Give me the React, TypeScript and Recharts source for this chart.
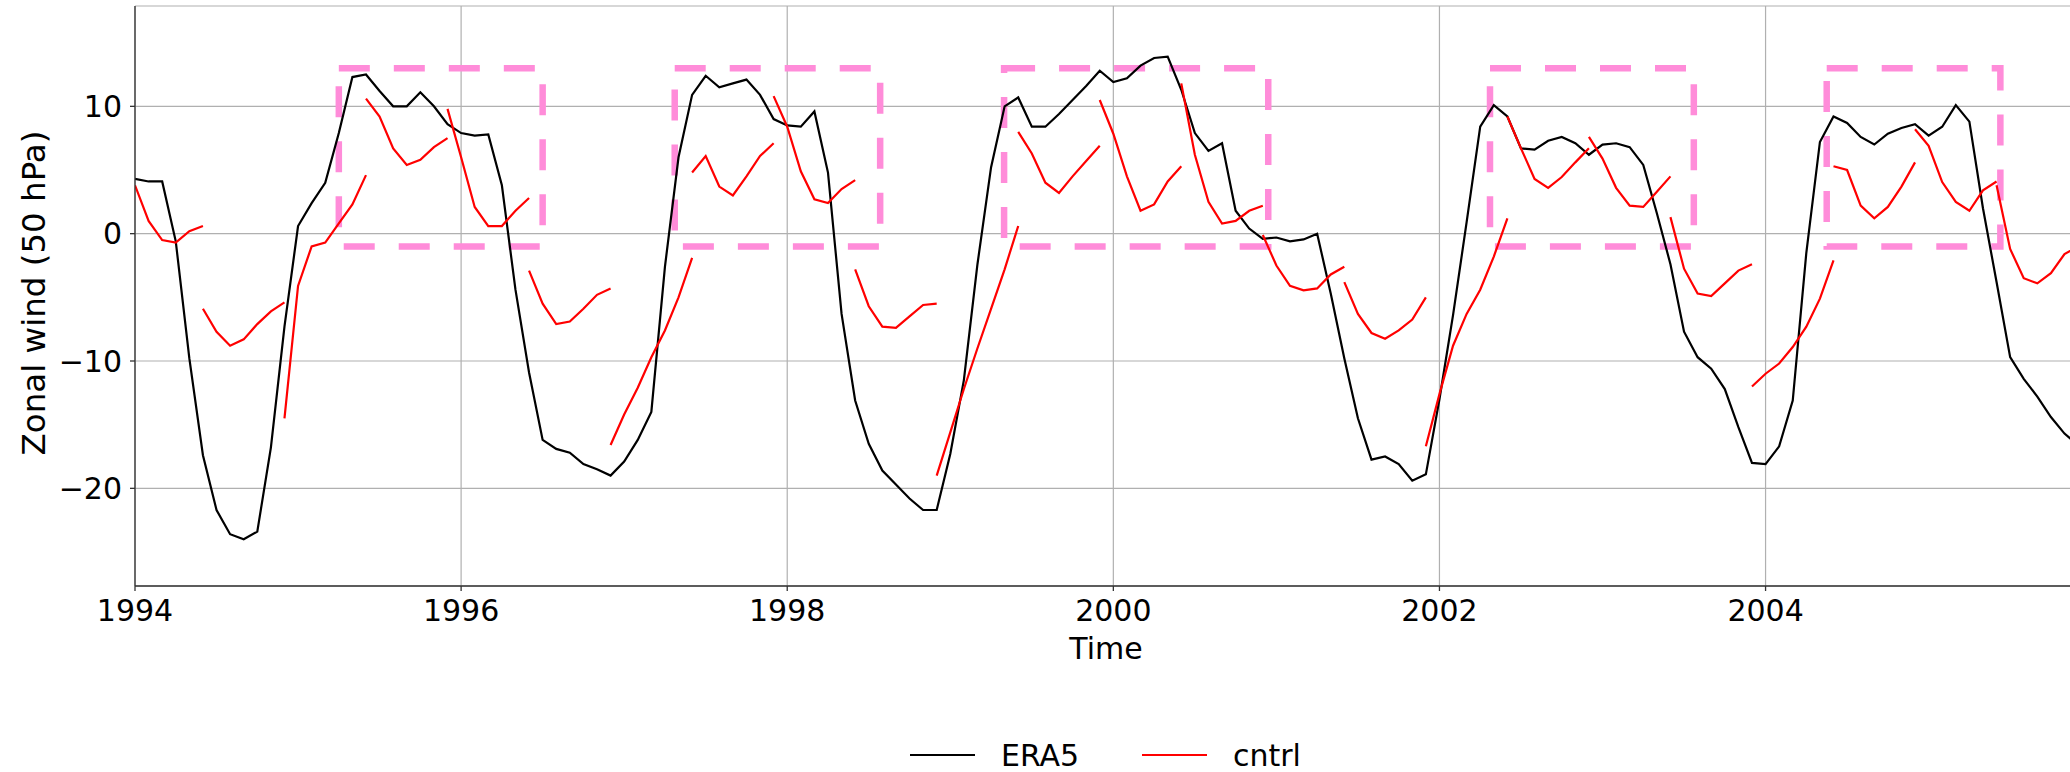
import React from 'react';
import { LineChart, Line, XAxis, YAxis, CartesianGrid, ReferenceArea, Label } from 'recharts';

// Monthly zonal wind at 50 hPa, Jan 1994 onwards (one value per month)
const startYear = 1994;
const era5 = [
  4.3, 4.1, 4.1, -0.6, -9.8, -17.4, -21.7, -23.6, -24.0, -23.4, -16.8, -7.3,
  0.6, 2.4, 4.0, 7.9, 12.3, 12.5, 11.2, 10.0, 10.0, 11.1, 10.0, 8.6,
  7.9, 7.7, 7.8, 3.8, -4.4, -10.9, -16.2, -16.9, -17.2, -18.1, -18.5, -19.0,
  -17.9, -16.2, -14.0, -2.6, 6.0, 10.9, 12.4, 11.5, 11.8, 12.1, 10.9, 9.0,
  8.5, 8.4, 9.6, 4.8, -6.3, -13.1, -16.5, -18.6, -19.7, -20.8, -21.7, -21.7,
  -17.3, -11.5, -2.4, 5.2, 10.0, 10.7, 8.4, 8.4, 9.4, 10.5, 11.6, 12.8,
  11.9, 12.2, 13.2, 13.8, 13.9, 11.3, 7.9, 6.5, 7.1, 1.8, 0.4, -0.4,
  -0.3, -0.6, -0.45, 0.0, -4.7, -9.8, -14.5, -17.75, -17.5, -18.1, -19.4, -18.9,
  -13.0, -6.4, 0.9, 8.4, 10.1, 9.2, 6.7, 6.6, 7.3, 7.6, 7.1, 6.2,
  7.0, 7.1, 6.8, 5.4, 1.6, -2.4, -7.7, -9.7, -10.6, -12.2, -15.2, -18.0,
  -18.1, -16.7, -13.1, -1.5, 7.2, 9.2, 8.7, 7.6, 7.0, 7.85, 8.3, 8.6,
  7.7, 8.4, 10.1, 8.8, 2.0, -3.8, -9.7, -11.4, -12.8, -14.4, -15.7, -16.6,
];

// cntrl runs: month index where each run starts, and its values
const cntrlStarts = [0, 5, 11, 17, 23, 29, 35, 41, 47, 53, 59, 65, 71, 77, 83, 89, 95, 101, 107, 113, 119, 125, 131, 137];
const cntrlRuns = [
  [3.8, 1.0, -0.5, -0.7, 0.2, 0.6],
  [-5.9, -7.7, -8.8, -8.3, -7.1, -6.1, -5.4],
  [-14.5, -4.1, -1.0, -0.7, 0.8, 2.3, 4.6],
  [10.6, 9.2, 6.7, 5.4, 5.8, 6.8, 7.5],
  [9.8, 6.0, 2.1, 0.6, 0.6, 1.8, 2.8],
  [-2.9, -5.5, -7.1, -6.9, -5.9, -4.8, -4.3],
  [-16.6, -14.2, -12.1, -9.7, -7.6, -5.0, -1.9],
  [4.8, 6.1, 3.7, 3.0, 4.5, 6.1, 7.1],
  [10.8, 8.4, 4.9, 2.7, 2.4, 3.5, 4.2],
  [-2.8, -5.7, -7.3, -7.4, -6.5, -5.6, -5.5],
  [-19.0, -15.6, -12.2, -9.0, -5.9, -2.8, 0.6],
  [8.0, 6.3, 4.0, 3.2, 4.5, 5.7, 6.9],
  [10.5, 7.85, 4.5, 1.8, 2.3, 4.1, 5.3],
  [11.8, 6.2, 2.5, 0.8, 1.0, 1.8, 2.2],
  [-0.1, -2.5, -4.1, -4.45, -4.3, -3.2, -2.6],
  [-3.8, -6.3, -7.8, -8.25, -7.6, -6.75, -5.0],
  [-16.7, -12.6, -8.8, -6.3, -4.4, -1.8, 1.2],
  [9.2, 6.7, 4.3, 3.6, 4.45, 5.6, 6.7],
  [7.6, 5.9, 3.6, 2.2, 2.1, 3.3, 4.5],
  [1.3, -2.75, -4.7, -4.9, -3.9, -2.9, -2.4],
  [-12.0, -11.0, -10.2, -8.9, -7.3, -5.1, -2.1],
  [5.3, 5.0, 2.2, 1.2, 2.1, 3.7, 5.6],
  [8.2, 6.9, 4.05, 2.5, 1.8, 3.4, 4.1],
  [3.8, -1.2, -3.5, -3.9, -3.1, -1.6, -1.0],
];

// highlighted westerly periods (decimal years) and their wind range
const boxStart = [1995.25, 1997.31, 1999.33, 2002.31, 2004.375];
const boxEnd = [1996.5, 1998.57, 2000.95, 2003.56, 2005.44];
const boxLow = -1;
const boxHigh = 13;

const xTicks = [1994, 1996, 1998, 2000, 2002, 2004];
const yTicks = [-20, -10, 0, 10];
const xDomain = [1994, 2005.91];
const yDomain = [-27.67, 17.88];

const font = '"DejaVu Sans", sans-serif';
const pink = '#ff8cd9';
const series = [
  { name: 'ERA5', color: '#000000' },
  { name: 'cntrl', color: '#ff0000' },
];

const monthToYear = (m: number) => startYear + m / 12;

const era5Data = era5.map((v, i) => ({ t: monthToYear(i), ERA5: v }));
const cntrlData = cntrlRuns.map((run, r) =>
  run.map((v, j) => ({ t: monthToYear(cntrlStarts[r] + j), cntrl: v }))
);

const minus = (v: number) => String(v).replace('-', '\u2212');

export default function App() {
  return (
    <div style={{ position: 'absolute', left: 0, top: 0, width: 2070, height: 772, overflow: 'hidden', background: '#fff' }}>
      <LineChart width={2078} height={772} data={era5Data} margin={{ top: 6, right: 1, bottom: 0, left: 0 }}>
        <CartesianGrid stroke="#b0b0b0" strokeWidth={1.2} />
        <XAxis
          xAxisId="top"
          orientation="top"
          type="number"
          dataKey="t"
          domain={xDomain}
          allowDataOverflow
          height={0}
          tick={false}
          tickLine={false}
          stroke="#333"
          strokeWidth={1.3}
        />
        <XAxis
          type="number"
          dataKey="t"
          domain={xDomain}
          allowDataOverflow
          ticks={xTicks}
          height={186}
          tickSize={5}
          tickMargin={9}
          stroke="#333"
          strokeWidth={1.3}
          tick={{ fill: '#000', fontSize: 30, fontFamily: font }}
          tickFormatter={(v: number) => String(v)}
          label={
            <Label
              content={({ viewBox }: any) => (
                <text x={viewBox.x + viewBox.width / 2} y={viewBox.y + 73} textAnchor="middle" fontSize={30} fontFamily={font} fill="#000">
                  Time
                </text>
              )}
            />
          }
        />
        <YAxis
          type="number"
          domain={yDomain}
          allowDataOverflow
          ticks={yTicks}
          width={135}
          tickSize={5}
          tickMargin={8}
          stroke="#333"
          strokeWidth={1.3}
          tick={{ fill: '#000', fontSize: 30, fontFamily: font }}
          tickFormatter={minus}
          label={
            <Label
              content={({ viewBox }: any) => {
                const cx = 45;
                const cy = viewBox.y + viewBox.height / 2 - 3;
                return (
                  <text x={cx} y={cy} transform={`rotate(-90, ${cx}, ${cy})`} textAnchor="middle" fontSize={32.5} fontFamily={font} fill="#000">
                    Zonal wind (50 hPa)
                  </text>
                );
              }}
            />
          }
        />
        {boxStart.map((x1, i) => (
          <ReferenceArea
            key={`box-${i}`}
            x1={x1}
            x2={boxEnd[i]}
            y1={boxLow}
            y2={boxHigh}
            fill="none"
            fillOpacity={0}
            stroke={pink}
            strokeWidth={6.5}
            strokeDasharray="31 24"
          />
        ))}
        <Line
          dataKey="ERA5"
          stroke={series[0].color}
          strokeWidth={2.2}
          dot={false}
          isAnimationActive={false}
        />
        {cntrlData.map((run, r) => (
          <Line
            key={`cntrl-${r}`}
            data={run}
            dataKey="cntrl"
            stroke={series[1].color}
            strokeWidth={2.2}
            dot={false}
            isAnimationActive={false}
          />
        ))}
      </LineChart>
      <svg width={2070} height={772} style={{ position: 'absolute', left: 0, top: 0, pointerEvents: 'none' }}>
        {series.map((s, i) => {
          const x0 = 910 + i * 232;
          return (
            <g key={s.name}>
              <line x1={x0} x2={x0 + 65} y1={755} y2={755} stroke={s.color} strokeWidth={2.2} />
              <text x={x0 + 91} y={766} fontSize={30} fontFamily={font} fill="#000">
                {s.name}
              </text>
            </g>
          );
        })}
      </svg>
    </div>
  );
}
